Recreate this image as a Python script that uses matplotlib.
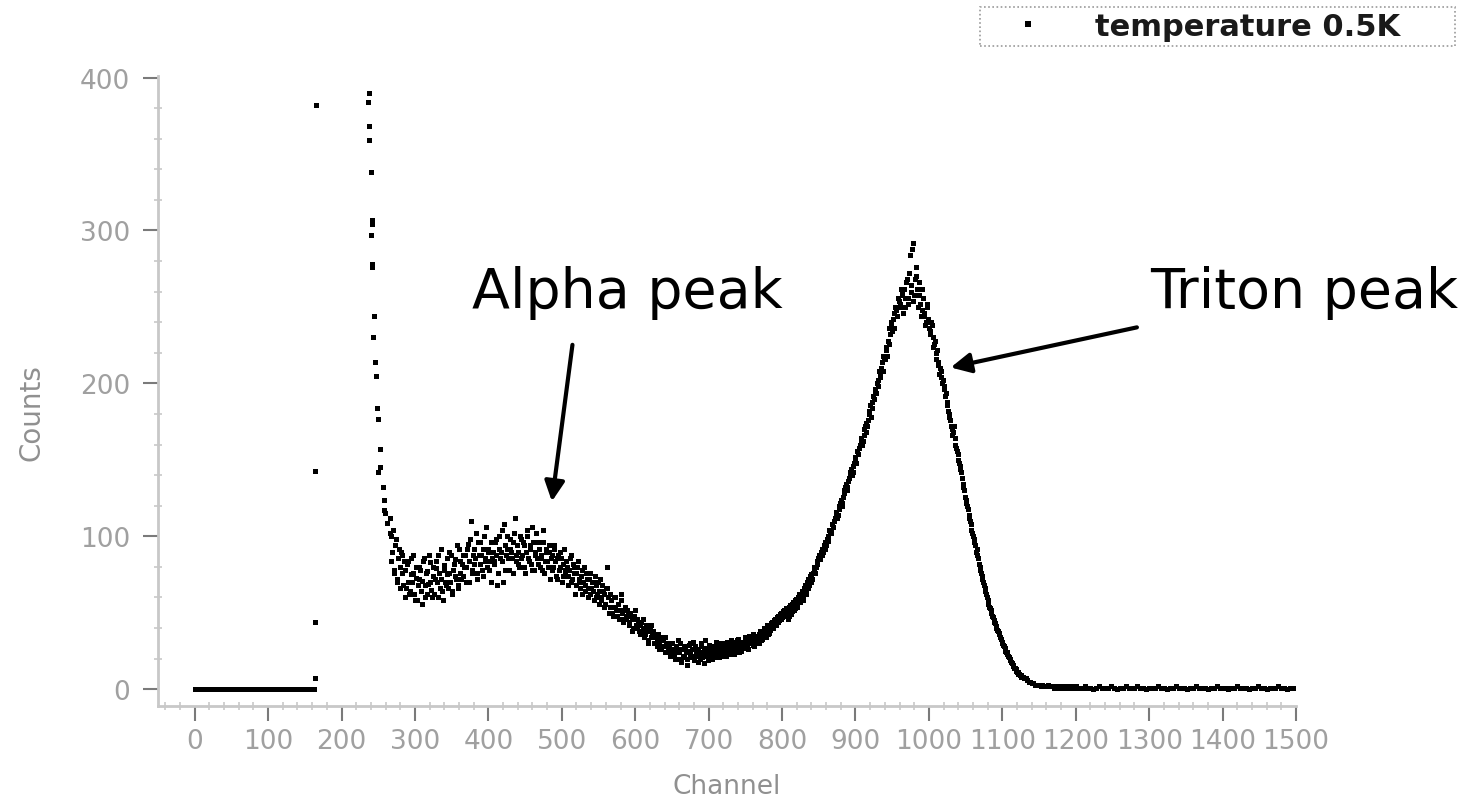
import numpy as np
import matplotlib.pyplot as plt
from matplotlib.ticker import MultipleLocator

# flat baseline before the first spike
base_channels = np.arange(0, 164, 2)
base_counts = np.zeros(len(base_channels))

# isolated spike near channel 165
spike1_channels = [164, 164, 164, 165]
spike1_counts = [7, 44, 143, 382]

# second spike, falling edge
spike2_channels = [236, 237, 237, 238, 240, 240, 241, 241, 241, 242, 243, 244, 246,
                   247, 248, 250, 250, 252, 253, 256, 258, 258, 259, 262, 266]
spike2_counts = [384, 368, 359, 390, 338, 297, 307, 304, 276, 278, 230, 244, 214,
                 205, 184, 177, 142, 157, 145, 132, 124, 117, 115, 109, 102]

# main spectrum, even channels starting at 266
even_start = 266
even_counts = [
    112, 84, 104, 78, 98, 72, 92, 80, 88, 68,
    78, 66, 84, 62, 75, 70, 88, 58, 73, 68,
    80, 64, 71, 86, 60, 77, 69, 83, 65, 74,
    62, 79, 70, 88, 66, 72, 58, 81, 68, 75,
    90, 70, 64, 78, 85, 72, 68, 92, 76, 82,
    74, 88, 80, 95, 70, 110, 78, 92, 86, 76,
    96, 82, 88, 74, 100, 86, 80, 92, 84, 70,
    90, 84, 98, 68, 92, 86, 104, 70, 94, 88,
    100, 78, 92, 86, 96, 112, 84, 90, 80, 98,
    88, 94, 76, 104, 86, 92, 82, 106, 78, 90,
    86, 96, 80, 88, 104, 76, 92, 84, 90, 72,
    88, 80, 94, 74, 86, 78, 90, 70, 82, 76,
    84, 68, 78, 88, 72, 80, 62, 76, 84, 70,
    74, 62, 80, 68, 72, 60, 76, 66, 70, 58,
    68, 62, 56, 72, 60, 64, 54, 66, 80, 50,
    62, 54, 48, 60, 52, 56, 46, 58, 50, 44,
    54, 46, 50, 42, 48, 38, 46, 52, 40, 44,
    36, 44, 40, 34, 42, 38, 30, 40, 34, 38,
    30, 36, 32, 26, 34, 28, 32, 24, 30, 26,
    28, 22, 30, 25, 20, 27, 32, 24, 18, 26,
    22, 28, 16, 25, 30, 21, 26, 19, 28, 23,
    26, 20, 30, 24, 17, 27, 22, 29, 25, 20,
    27, 23, 31, 25, 21, 28, 24, 30, 26, 22,
    29, 25, 32, 27, 23, 30, 26, 33, 28, 25,
    31, 27, 34, 29, 26, 33, 30, 36, 28, 32,
    35, 30, 38, 33, 36, 40, 34, 42, 37, 39,
    44, 40, 46, 42, 48, 45, 50, 47, 52, 49,
    50, 46, 54, 49, 56, 52, 58, 54, 60, 57,
    62, 58, 66, 62, 70, 66, 74, 70, 76, 80,
    80, 84, 88, 86, 92, 90, 96, 94, 100, 104,
    102, 108, 106, 112, 116, 114, 120, 124, 122, 128,
    132, 130, 136, 140, 144, 142, 148, 152, 156, 154,
    160, 164, 162, 170, 174, 172, 180, 186, 184, 192,
    196, 194, 202, 208, 206, 214, 218, 216, 224, 228,
    236, 240, 234, 246, 250, 244, 256, 252, 262, 258,
    262, 250, 268, 256, 284, 264, 292, 258, 270, 262,
    266, 252, 248, 256, 244, 240, 250, 236, 232, 238,
    224, 228, 216, 212, 206, 208, 200, 196, 192, 188,
    182, 178, 172, 166, 172, 160, 156, 150, 146, 142,
    134, 130, 124, 120, 114, 110, 104, 100, 96, 90,
    88, 82, 78, 74, 70, 66, 62, 58, 54, 52,
    48, 45, 43, 40, 38, 36, 33, 30, 28, 25,
    24, 22, 20, 18, 16, 14, 13, 11, 10, 9,
    8, 8, 7, 7, 6, 5, 5, 4, 4, 3,
    3, 3, 3, 2, 3, 2, 2, 2, 3, 2,
    2, 2, 1, 2, 2, 1, 2, 1, 2, 1,
    1, 2, 1, 1, 2, 1, 1,
]

# main spectrum, odd channels starting at 267
odd_start = 267
odd_counts = [
    100, 90, 76, 94, 70, 86, 66, 90, 76, 84,
    60, 82, 70, 64, 86, 76, 62, 80, 58, 72,
    78, 56, 84, 68, 76, 62, 88, 70, 60, 80,
    72, 84, 60, 76, 92, 64, 78, 70, 86, 66,
    76, 88, 62, 82, 74, 94, 66, 84, 72, 88,
    80, 70, 92, 84, 98, 76, 88, 82, 102, 72,
    88, 96, 78, 92, 84, 106, 90, 78, 96, 86,
    82, 96, 88, 76, 100, 90, 84, 108, 78, 92,
    86, 98, 90, 76, 102, 88, 94, 82, 100, 86,
    96, 80, 90, 100, 84, 94, 78, 96, 88, 102,
    82, 92, 86, 78, 96, 84, 90, 80, 94, 86,
    78, 92, 84, 72, 88, 80, 86, 74, 92, 78,
    80, 74, 86, 70, 82, 76, 68, 80, 72, 66,
    78, 70, 64, 76, 66, 72, 62, 70, 64, 74,
    60, 70, 64, 58, 68, 62, 56, 66, 60, 54,
    58, 50, 60, 54, 48, 56, 52, 62, 46, 52,
    48, 52, 44, 50, 46, 40, 48, 42, 46, 38,
    42, 38, 46, 36, 40, 32, 38, 42, 36, 30,
    34, 28, 36, 30, 26, 32, 28, 34, 24, 28,
    24, 30, 26, 22, 28, 24, 20, 30, 26, 21,
    27, 24, 20, 29, 23, 26, 31, 22, 25, 18,
    23, 28, 21, 26, 32, 24, 19, 27, 23, 28,
    25, 21, 28, 23, 30, 26, 22, 27, 24, 31,
    26, 23, 29, 31, 25, 28, 32, 24, 30, 27,
    29, 32, 28, 31, 35, 30, 33, 29, 34, 31,
    33, 36, 32, 37, 35, 38, 41, 36, 40, 43,
    41, 45, 43, 47, 44, 49, 46, 51, 48, 53,
    52, 48, 55, 51, 57, 53, 59, 56, 62, 58,
    64, 60, 68, 64, 72, 68, 75, 72, 78, 76,
    82, 86, 85, 90, 88, 94, 92, 98, 97, 102,
    104, 106, 110, 114, 112, 118, 122, 120, 126, 130,
    134, 132, 138, 142, 140, 146, 150, 148, 154, 158,
    162, 160, 166, 172, 168, 176, 182, 178, 188, 190,
    194, 200, 198, 204, 210, 208, 216, 222, 218, 226,
    232, 238, 242, 236, 248, 244, 254, 250, 260, 246,
    256, 266, 252, 272, 260, 288, 254, 268, 276, 250,
    258, 244, 262, 246, 238, 252, 242, 234, 240, 230,
    226, 220, 222, 214, 210, 204, 202, 198, 194, 186,
    180, 176, 170, 168, 164, 158, 154, 148, 144, 138,
    132, 126, 122, 118, 112, 108, 102, 98, 94, 92,
    86, 80, 76, 72, 68, 64, 60, 56, 53, 50,
    47, 44, 41, 39, 37, 34, 31, 29, 27, 24,
    23, 21, 19, 17, 15, 14, 12, 11, 10, 9,
]

# flat tail, every 4th channel starting at 1200
tail_start = 1200
tail_counts = [2, 1, 1, 2, 1, 1, 0, 1, 2, 1, 1, 1, 2, 1, 0, 1, 1, 2, 1, 1,
               1, 2, 1, 1, 0, 1, 1, 1, 2, 1, 1, 0, 1, 1, 2, 1, 1, 1, 0, 1,
               1, 2, 1, 1, 1, 0, 1, 1, 2, 1, 1, 1, 0, 1, 1, 2, 1, 1, 1, 0,
               1, 1, 2, 1, 1, 0, 1, 1, 1, 2, 1, 1, 0, 1, 1]

even_channels = even_start + 2 * np.arange(len(even_counts))
odd_channels = odd_start + 2 * np.arange(len(odd_counts))
tail_channels = tail_start + 4 * np.arange(len(tail_counts))

channels = np.concatenate([base_channels, spike1_channels, spike2_channels,
                           even_channels, odd_channels, tail_channels])
counts = np.concatenate([base_counts, spike1_counts, spike2_counts,
                         even_counts, odd_counts, tail_counts])

W, H = 1479, 803
fig = plt.figure(figsize=(W / 100, H / 100), dpi=100)
ax = fig.add_axes([158 / W, 96 / H, 1138 / W, 630 / H])

ax.plot(channels, counts, ls='none', marker='s', ms=3.6, mew=0, color='black',
        label='temperature 0.5K')

ax.set_xlim(-50, 1500)
ax.set_ylim(-11, 401)
ax.xaxis.set_major_locator(MultipleLocator(100))
ax.xaxis.set_minor_locator(MultipleLocator(20))
ax.yaxis.set_major_locator(MultipleLocator(100))
ax.yaxis.set_minor_locator(MultipleLocator(20))

for side in ['top', 'right']:
    ax.spines[side].set_visible(False)
for side in ['left', 'bottom']:
    ax.spines[side].set_color('#c8c8c8')
    ax.spines[side].set_linewidth(2)

ax.tick_params(which='major', length=11, width=1.5, color='#7a7a7a',
               labelsize=19, labelcolor='#a0a0a0')
ax.tick_params(which='minor', length=6, width=1.2, color='#c8c8c8', direction='inout')
ax.tick_params(axis='x', which='major', pad=5)
ax.tick_params(axis='y', which='major', pad=9)

ax.set_xlabel('Channel', fontsize=19, color='#909090')
ax.set_ylabel('Counts', fontsize=20, color='#909090')
ax.xaxis.set_label_coords(0.5, -0.106)
ax.yaxis.set_label_coords(-0.099, 0.467)

# annotations
arrow = dict(arrowstyle='-|>', lw=3, color='black', mutation_scale=30)
ax.annotate('', xy=(486, 121), xytext=(515, 227), arrowprops=arrow)
ax.annotate('', xy=(1026, 210), xytext=(1287, 237), arrowprops=arrow)
ax.text(589, 260, 'Alpha peak', fontsize=40, ha='center', va='center')
ax.text(1301, 260, 'Triton peak', fontsize=40, ha='left', va='center')

leg = ax.legend(loc='upper left', bbox_to_anchor=(980 / W, 1 - 8 / H, 475 / W, 0),
                bbox_transform=fig.transFigure, mode='expand',
                prop={'size': 22, 'weight': 'bold'},
                frameon=True, fancybox=False, borderpad=0.16, borderaxespad=0,
                handlelength=2.8, handletextpad=0.8, markerscale=1.1)
leg.get_frame().set_edgecolor('#808080')
leg.get_frame().set_linestyle((0, (1, 1.5)))
leg.get_frame().set_linewidth(1.2)
for t in leg.get_texts():
    t.set_color('#1a1a1a')

fig.savefig('out.png', dpi=100)
